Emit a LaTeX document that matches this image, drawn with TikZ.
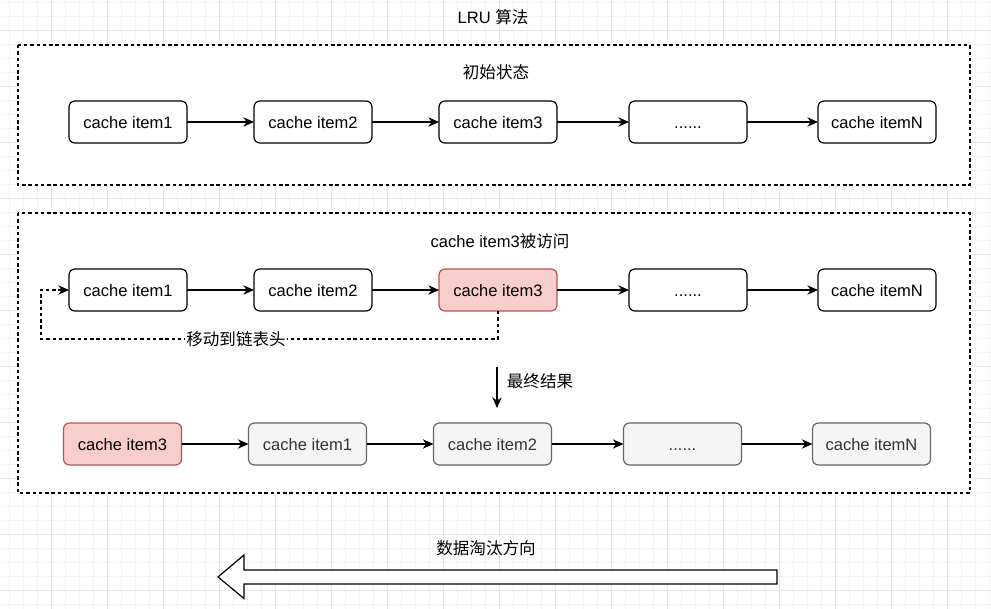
\documentclass[tikz,border=0pt]{standalone}
\usepackage{fontspec}
\setmainfont{Liberation Sans}
\newfontfamily\cjk{Noto Sans CJK SC}
\usetikzlibrary{arrows.meta,positioning}

\definecolor{redfill}{HTML}{F8CECC}
\definecolor{redline}{HTML}{B85450}
\definecolor{grayfill}{HTML}{F5F5F5}
\definecolor{grayline}{HTML}{666666}
\definecolor{graytext}{HTML}{333333}
\definecolor{gridmajor}{HTML}{E6E6E6}
\definecolor{gridminor}{HTML}{F3F3F3}

\begin{document}
\begin{tikzpicture}[
    x=0.75pt, y=-0.75pt,
    font=\fontsize{12.4}{14.8}\selectfont,
    node distance=50.25pt,
    item/.style={rectangle, draw, rounded corners=4.5pt, line width=0.9pt, outer sep=0pt, minimum width=88.5pt, minimum height=31.5pt, text height=10pt, text depth=0pt, fill=white},
    hot/.style={item, fill=redfill, draw=redline},
    moved/.style={item, fill=grayfill, draw=grayline, text=graytext},
    frame/.style={draw, line width=0.9pt, dash pattern=on 2.6pt off 2.1pt, fill=white},
    arrow/.style={-{Stealth[length=8pt,width=7pt,inset=2.5pt]}, line width=0.9pt}
]

% Background grid
\useasboundingbox (0,0) rectangle (991,609);
\fill[white] (0,0) rectangle (991,609);
\foreach \k in {0,...,70} {\draw[gridminor, line width=0.75pt] ({9.7+14*\k},0) -- ({9.7+14*\k},609);}
\foreach \k in {0,...,43} {\draw[gridminor, line width=0.75pt] (0,{2.3+14*\k}) -- (991,{2.3+14*\k});}
\foreach \k in {0,...,16} {\draw[gridmajor, line width=0.75pt] ({51.7+56*\k},0) -- ({51.7+56*\k},609);}
\foreach \k in {0,...,10} {\draw[gridmajor, line width=0.75pt] (0,{30.3+56*\k}) -- (991,{30.3+56*\k});}

% Title
\node (title) at (493,17) {LRU {\cjk 算法}};

% Frames
\draw[frame] (18,45) rectangle (970,185);
\draw[frame] (18,213) rectangle (970,493);

% Initial state
\node (init) at (496,72) {\cjk 初始状态};
\node[item] (a1) at (128,122) {cache item1};
\node[item, right=of a1] (a2) {cache item2};
\node[item, right=of a2] (a3) {cache item3};
\node[item, right=54pt of a3] (a4) {......};
\node[item, right=53.25pt of a4] (a5) {cache itemN};

% Item3 accessed
\node (visit) at (500,241) {cache item3{\cjk 被访问}};
\node[item] (b1) at (128,290) {cache item1};
\node[item, right=of b1] (b2) {cache item2};
\node[hot, right=of b2] (b3) {cache item3};
\node[item, right=54pt of b3] (b4) {......};
\node[item, right=53.25pt of b4] (b5) {cache itemN};

% Result
\node[hot] (c1) at (122.5,444) {cache item3};
\node[moved, right=of c1] (c2) {cache item1};
\node[moved, right=of c2] (c3) {cache item2};
\node[moved, right=54pt of c3] (c4) {......};
\node[moved, right=53.25pt of c4] (c5) {cache itemN};

% Arrows
\draw[arrow] (a1) -- (a2);
\draw[arrow] (a2) -- (a3);
\draw[arrow] (a3) -- (a4);
\draw[arrow] (a4) -- (a5);
\draw[arrow] (b1) -- (b2);
\draw[arrow] (b2) -- (b3);
\draw[arrow] (b3) -- (b4);
\draw[arrow] (b4) -- (b5);
\draw[arrow] (c1) -- (c2);
\draw[arrow] (c2) -- (c3);
\draw[arrow] (c3) -- (c4);
\draw[arrow] (c4) -- (c5);

% Move to head
\coordinate (back) at (41,339);
\draw[arrow, dash pattern=on 2.6pt off 2.1pt] (b3.south) |- (back) |- (b1.west);
\node[fill=white, inner sep=1pt] (movelbl) at (236,339) {\cjk 移动到链表头};

% Final result
\coordinate (resfrom) at (497,367);
\coordinate (resto) at (497,408);
\draw[arrow] (resfrom) -- (resto);
\node (reslbl) at (540,381) {\cjk 最终结果};

% Eviction direction
\node (dirlbl) at (486,548) {\cjk 数据淘汰方向};
\draw[line width=0.9pt, fill=white] (777,570) -- (244,570) -- (244,555) -- (218,577) -- (244,598.5) -- (244,584) -- (777,584) -- cycle;

\end{tikzpicture}
\end{document}
